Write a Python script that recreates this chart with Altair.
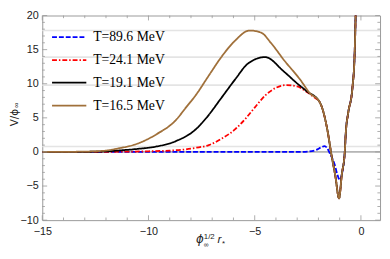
import altair as alt
import pandas as pd

# ---------------- data ----------------
series = ["T=89.6 MeV", "T=24.1 MeV", "T=19.1 MeV", "T=16.5 MeV"]
colors = ["#0000ff", "#ff0000", "#000000", "#a0703a"]
dashes = [[5, 2], [5, 2, 1.5, 2], [1, 0], [1, 0]]

# common right-hand part shared by the curves
tail_x = [-1.94, -1.56, -1.41, -1.2, -1.03, -0.9, -0.76, -0.71, -0.6, -0.4, -0.3, -0.22]
tail_y = [7.3, 2.9, 0.0, -3.6, -6.8, -3.3, 0.0, 2.9, 5.7, 9.4, 14.0, 24.0]

blue_x = [-15, -12, -9, -6, -3.0, -2.5, -2.1, -1.85, -1.71, -1.6, -1.45, -1.24, -1.1, -1.0, -0.9]
blue_y = [0, 0, 0, 0, 0, 0.05, 0.3, 0.7, 0.85, 0.6, -0.3, -1.8, -3.4, -4.1, -3.3]

red_x = [-15, -12, -10, -9, -8.39, -7.78, -7.16, -6.55, -5.93, -5.4, -5.0, -4.5, -4.0, -3.5, -3.0, -2.6, -2.2]
red_y = [0, 0.02, 0.1, 0.2, 0.33, 0.6, 1.0, 1.95, 3.3, 5.0, 6.5, 8.3, 9.4, 9.8, 9.6, 8.9, 8.0]

black_x = [-15, -13, -12, -11.45, -10.5, -9.62, -8.7, -7.78, -7.3, -6.55, -5.93, -5.3, -4.51, -3.63, -3.02, -2.55]
black_y = [0, 0.02, 0.08, 0.2, 0.45, 0.8, 1.6, 3.3, 4.9, 8.0, 10.6, 13.0, 13.9, 11.8, 10.1, 8.9]

brown_x = [-15, -14, -13, -12, -11.45, -10.53, -9.62, -8.7, -8.24, -7.78, -7.16, -6.55, -5.93, -5.24, -4.7, -4.24, -3.63, -2.86, -2.4]
brown_y = [0, 0.01, 0.05, 0.2, 0.5, 1.2, 2.6, 4.7, 6.5, 8.3, 11.2, 14.0, 16.3, 17.8, 17.5, 16.0, 13.5, 10.6, 8.6]

peaks = [17.8, 13.9, 9.8, 0.8]

x_major = [-15, -10, -5, 0]
x_minor = [v for v in range(-14, 1) if v not in x_major]
y_major = [-10, -5, 0, 5, 10, 15, 20]
y_minor = [v for v in range(-9, 20) if v not in y_major]

# ---------------- layout ----------------
TOP = 13          # absolute y of the plot's top edge in the page
W, H = 345, 209
FRAME = "#999999"
xs = alt.Scale(domain=[-15, 0.9], nice=False, zero=False)
ys = alt.Scale(domain=[-10, 20], nice=False, zero=False)
xaxis = alt.Axis(values=x_major, ticks=False, domain=False, grid=False, labelFlush=False,
                 labelFont="Liberation Sans", labelFontSize=11, labelColor="#222222",
                 labelPadding=6, title=None)
yaxis = alt.Axis(values=y_major, ticks=False, domain=False, grid=False, labelFlush=False,
                 labelFont="Liberation Sans", labelFontSize=11, labelColor="#222222",
                 labelPadding=4, title=None)

def X(f):
    return alt.X(f, type="quantitative", scale=xs, axis=xaxis)

def Y(f):
    return alt.Y(f, type="quantitative", scale=ys, axis=yaxis)

one = pd.DataFrame({"a": [0]})

layers = []
layers.append(alt.Chart(pd.DataFrame({"y": peaks})).mark_rule(color="#e4e4e4", strokeWidth=1.6).encode(y=Y("y")))
layers.append(alt.Chart(pd.DataFrame({"y": [0]})).mark_rule(color="#555555", strokeWidth=0.8).encode(y=Y("y")))

curves = [
    (blue_x + tail_x[6:], blue_y + tail_y[6:]),
    (red_x + tail_x, red_y + tail_y),
    (black_x + tail_x, black_y + tail_y),
    (brown_x + tail_x, brown_y + tail_y),
]
for (cx, cy), c, d in zip(curves, colors, dashes):
    df = pd.DataFrame({"x": cx, "v": cy, "i": range(len(cx))})
    layers.append(
        alt.Chart(df).mark_line(color=c, strokeDash=d, strokeWidth=1.8, clip=True, interpolate="monotone")
        .encode(x=X("x"), y=Y("v"), order=alt.Order("i:Q"))
    )

# frame ticks (inside)
def xticks(vals, ln):
    d = pd.DataFrame({"t": vals})
    b = alt.Chart(d).mark_rule(color=FRAME, strokeWidth=0.8).encode(x=X("t"), y=alt.value(H), y2=alt.value(H - ln))
    t = alt.Chart(d).mark_rule(color=FRAME, strokeWidth=0.8).encode(x=X("t"), y=alt.value(0), y2=alt.value(ln))
    return [b, t]

def yticks(vals, ln):
    d = pd.DataFrame({"t": vals})
    l = alt.Chart(d).mark_rule(color=FRAME, strokeWidth=0.8).encode(y=Y("t"), x=alt.value(0), x2=alt.value(ln))
    r = alt.Chart(d).mark_rule(color=FRAME, strokeWidth=0.8).encode(y=Y("t"), x=alt.value(W), x2=alt.value(W - ln))
    return [l, r]

layers += xticks(x_major, 5) + xticks(x_minor, 2.7) + yticks(y_major, 5) + yticks(y_minor, 2.7)

# legend
rows = [35 - TOP, 58.5 - TOP, 81.5 - TOP, 105 - TOP]
for s, c, d, ry in zip(series, colors, dashes, rows):
    layers.append(alt.Chart(one).mark_rule(color=c, strokeDash=d, strokeWidth=1.8)
                  .encode(x=alt.value(10), x2=alt.value(45), y=alt.value(ry)))
    layers.append(alt.Chart(one).mark_text(align="left", baseline="middle", font="Liberation Serif",
                                           fontSize=14, color="#000000")
                  .encode(x=alt.value(52), y=alt.value(ry), text=alt.value(s)))

# axis titles
def txt(s, x, y, size, style="normal", align="left", angle=0, baseline="alphabetic", font="Liberation Sans"):
    return alt.Chart(one).mark_text(align=align, baseline=baseline, font=font, fontSize=size,
                                    fontStyle=style, angle=angle, color="#222222").encode(
        x=alt.value(x), y=alt.value(y), text=alt.value(s))

layers += [
    txt("ϕ", 157, 245 - TOP, 12, "italic", font="DejaVu Sans"),
    txt("∞", 165, 249 - TOP, 7),
    txt("1/2", 165, 241.5 - TOP, 8),
    txt("r", 179, 245 - TOP, 12, "italic"),
    txt("*", 183.5, 248.5 - TOP, 8),
    txt("V/ϕ", -28, 126 - TOP, 10.5, angle=270, baseline="middle", font="DejaVu Sans"),
    txt("∞", -25.5, 104.5 - TOP, 8, angle=270, align="center", baseline="middle"),
]

chart = alt.layer(*layers).properties(
    width=W, height=H,
    autosize=alt.AutoSizeParams(type="none"),
    padding={"left": 35, "top": TOP - 8, "right": 2, "bottom": 259 - 8 - (TOP - 8) - H},
).configure_view(stroke=FRAME, strokeWidth=1)

chart.save("out.html", embed_options={"renderer": "svg", "actions": False})
